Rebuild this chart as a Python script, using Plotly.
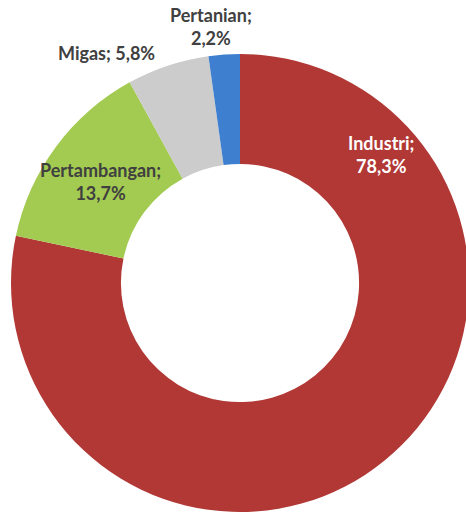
import plotly.graph_objects as go

labels = ["Industri", "Pertambangan", "Migas", "Pertanian"]
values = [78.3, 13.7, 5.8, 2.2]
value_text = ["78,3%", "13,7%", "5,8%", "2,2%"]
colors = ["#B13835", "#A3CB51", "#CCCCCC", "#3F7FCF"]

W, H = 470, 513

fig = go.Figure(go.Pie(
    labels=labels,
    values=values,
    hole=0.52,
    sort=False,
    direction="clockwise",
    rotation=0,
    marker=dict(colors=colors, line=dict(width=0)),
    textinfo="none",
    hoverinfo="label+percent",
    showlegend=False,
    domain=dict(x=[11 / W, 469 / W], y=[1 / H, 459 / H]),
))

# label text: (label index, x px, y px, multi-line, color)
label_pos = [
    (0, 381, 155, True, "white"),
    (1, 100, 181, True, "#404040"),
    (2, 106, 53, False, "#404040"),
    (3, 211, 27, True, "#404040"),
]
for i, xp, yp, multi, col in label_pos:
    txt = f"{labels[i]};<br>{value_text[i]}" if multi else f"{labels[i]}; {value_text[i]}"
    fig.add_annotation(
        x=xp / W, y=1 - yp / H, xref="paper", yref="paper",
        text=txt, showarrow=False, xanchor="center", yanchor="middle",
        font=dict(family="Lato", size=18, color=col, weight="bold"),
        align="center",
    )

fig.update_layout(
    width=W, height=H,
    margin=dict(l=0, r=0, t=0, b=0),
    paper_bgcolor="white",
    plot_bgcolor="white",
)
fig.write_html(
    "out.html",
    config={"displayModeBar": False},
    post_script="document.body.style.margin='0';document.body.style.overflow='hidden';",
)
